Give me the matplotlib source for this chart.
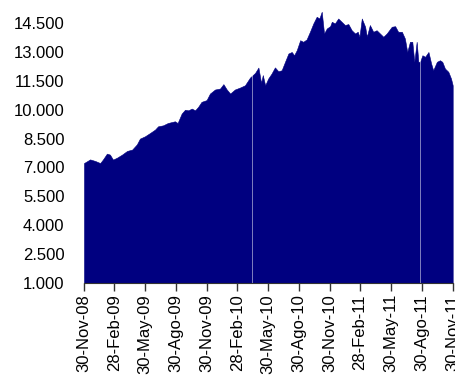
import numpy as np
import pandas as pd
import matplotlib
matplotlib.use('Agg')
import matplotlib.pyplot as plt
from matplotlib.ticker import FuncFormatter

plt.rcParams['font.family'] = ['Liberation Sans', 'DejaVu Sans']

# index level (thousands)
dates = ['2008-11-30', '2008-12-18', '2009-01-02', '2009-01-17', '2009-01-25', '2009-02-06',
         '2009-02-15', '2009-02-24', '2009-03-08', '2009-03-23', '2009-04-07', '2009-04-22',
         '2009-05-06', '2009-05-15', '2009-05-30', '2009-06-14', '2009-06-29', '2009-07-08',
         '2009-07-23', '2009-08-06', '2009-08-27', '2009-09-04', '2009-09-16', '2009-09-26',
         '2009-10-06', '2009-10-16', '2009-10-26', '2009-11-04', '2009-11-14', '2009-11-29',
         '2009-12-09', '2009-12-24', '2010-01-08', '2010-01-18', '2010-01-28', '2010-02-07',
         '2010-02-21', '2010-03-08', '2010-03-23', '2010-04-07', '2010-04-22', '2010-05-02',
         '2010-05-10', '2010-05-15', '2010-05-22', '2010-05-31', '2010-06-10', '2010-06-20',
         '2010-06-30', '2010-07-10', '2010-07-20', '2010-07-30', '2010-08-09', '2010-08-16',
         '2010-08-24', '2010-09-03', '2010-09-12', '2010-09-22', '2010-10-02', '2010-10-12',
         '2010-10-22', '2010-10-30', '2010-11-06', '2010-11-13', '2010-11-21', '2010-12-01',
         '2010-12-06', '2010-12-15', '2010-12-25', '2011-01-04', '2011-01-14', '2011-01-24',
         '2011-02-03', '2011-02-13', '2011-02-21', '2011-02-26', '2011-03-05', '2011-03-15',
         '2011-03-20', '2011-03-29', '2011-04-08', '2011-04-18', '2011-04-28', '2011-05-08',
         '2011-05-18', '2011-06-02', '2011-06-12', '2011-06-21', '2011-07-02', '2011-07-11',
         '2011-07-18', '2011-07-26', '2011-08-02', '2011-08-08', '2011-08-15', '2011-08-20',
         '2011-08-25', '2011-09-01', '2011-09-09', '2011-09-19', '2011-09-27', '2011-10-03',
         '2011-10-14', '2011-10-23', '2011-10-30', '2011-11-07', '2011-11-17', '2011-11-25',
         '2011-11-30']
level = [7.23, 7.42, 7.34, 7.23, 7.41, 7.72,
         7.67, 7.41, 7.51, 7.67, 7.86, 7.93,
         8.20, 8.50, 8.62, 8.79, 8.97, 9.14,
         9.19, 9.31, 9.40, 9.31, 9.80, 10.00,
         9.97, 10.06, 9.97, 10.15, 10.41, 10.50,
         10.84, 11.05, 11.10, 11.33, 11.05, 10.84,
         11.05, 11.15, 11.27, 11.67, 11.91, 12.19,
         11.39, 11.80, 11.27, 11.62, 11.88, 12.20,
         12.00, 12.05, 12.49, 12.92, 13.00, 12.83,
         13.10, 13.61, 13.53, 13.65, 14.05, 14.48,
         14.83, 14.74, 15.09, 13.96, 14.22, 14.34,
         14.57, 14.48, 14.74, 14.57, 14.40, 14.45,
         14.13, 13.96, 14.05, 13.79, 14.74, 14.31,
         13.79, 14.40, 14.05, 14.13, 13.96, 13.79,
         13.96, 14.31, 14.34, 14.05, 14.05, 13.70,
         13.00, 13.53, 13.53, 12.49, 13.53, 12.49,
         12.49, 12.83, 12.75, 13.00, 12.40, 12.05,
         12.49, 12.57, 12.49, 12.14, 11.97, 11.62,
         11.27]
gap_dates = ['2010-04-14', '2011-08-26']

tick_dates = ['2008-11-30', '2009-02-28', '2009-05-30', '2009-08-30', '2009-11-30',
              '2010-02-28', '2010-05-30', '2010-08-30', '2010-11-30', '2011-02-28',
              '2011-05-30', '2011-08-30', '2011-11-30']
tick_labels = ['30-Nov-08', '28-Feb-09', '30-May-09', '30-Ago-09', '30-Nov-09',
               '28-Feb-10', '30-May-10', '30-Ago-10', '30-Nov-10', '28-Feb-11',
               '30-May-11', '30-Ago-11', '30-Nov-11']
y_ticks = [1000, 2500, 4000, 5500, 7000, 8500, 10000, 11500, 13000, 14500]

x = pd.to_datetime(dates)
y = np.array(level) * 1000

fig = plt.figure(figsize=(4.56, 3.76), dpi=100)
ax = fig.add_axes([84/456, 93/376, (452.7-84)/456, 283/376])

ax.fill_between(x, 1000, y, color='#000080', lw=0.4, edgecolor='#000080')
for g in gap_dates:
    ax.axvline(pd.Timestamp(g), color='white', alpha=0.5, lw=0.7)

ax.set_xlim(pd.Timestamp(tick_dates[0]), pd.Timestamp(tick_dates[-1]))
ax.set_ylim(1000, 15700)

ax.set_xticks(pd.to_datetime(tick_dates))
ax.set_xticklabels(tick_labels, rotation=90, fontsize=12, va='top', ha='center')
ax.set_yticks(y_ticks)
ax.yaxis.set_major_formatter(FuncFormatter(lambda v, p: f'{int(v):,}'.replace(',', '.')))
ax.tick_params(axis='y', length=0, pad=14, labelsize=12)
ax.tick_params(axis='x', length=6, width=1, color='#333333', pad=2)

for s in ['top', 'right', 'left']:
    ax.spines[s].set_visible(False)
ax.spines['bottom'].set_color('#333333')

fig.savefig('out.png', dpi=100)
